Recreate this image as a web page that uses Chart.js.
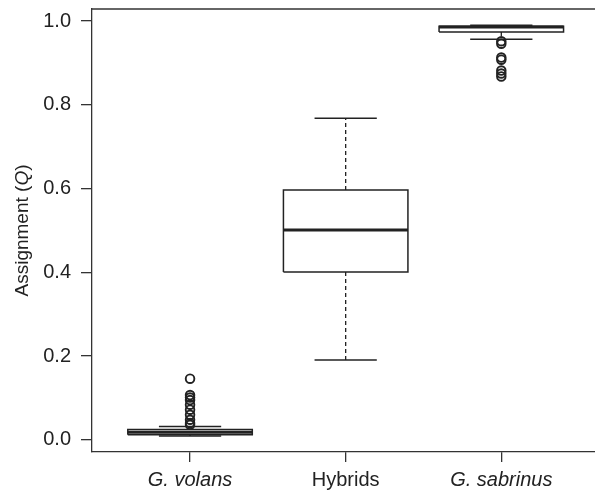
<!DOCTYPE html>
<html>
<head>
<meta charset="utf-8">
<script src="https://cdn.jsdelivr.net/npm/chart.js@4/dist/chart.umd.min.js"></script>
<style>
    html, body { margin: 0; padding: 0; overflow: hidden; background: #fff; }
</style>
</head>
<body>
<canvas id="myChart" width="604" height="494"></canvas>
<script>
var categories = ["G. volans", "Hybrids", "G. sabrinus"];
var lowerWhisker = [0.009, 0.191, 0.957];
var lowerQuartile = [0.012, 0.401, 0.974];
var medians = [0.018, 0.501, 0.986];
var upperQuartile = [0.025, 0.597, 0.988];
var upperWhisker = [0.032, 0.768, 0.990];
var outliers = [
    [0.146, 0.107, 0.101, 0.095, 0.084, 0.072, 0.060, 0.048, 0.040, 0.036],
    [],
    [0.952, 0.946, 0.913, 0.908, 0.882, 0.875, 0.868]
];
var yTicks = [0.0, 0.2, 0.4, 0.6, 0.8, 1.0];

var ink = "#222";
var fontFamily = "'Liberation Sans', Arial, Helvetica, sans-serif";
var boxHalf = 0.4, capHalf = 0.2;

function seg(points, width, dash) {
    return {
        data: points,
        showLine: true,
        borderColor: ink,
        borderWidth: width,
        borderDash: dash || [],
        pointRadius: 0,
        fill: false
    };
}

var dts = [];
for (var i = 0; i < categories.length; i++) {
    var x = i + 1;
    // box
    dts.push(seg([
        {x: x - boxHalf, y: lowerQuartile[i]}, {x: x + boxHalf, y: lowerQuartile[i]},
        {x: x + boxHalf, y: upperQuartile[i]}, {x: x - boxHalf, y: upperQuartile[i]},
        {x: x - boxHalf, y: lowerQuartile[i]}
    ], 1.5));
    // whiskers
    dts.push(seg([{x: x, y: upperQuartile[i]}, {x: x, y: upperWhisker[i]}], 1.3, [4, 3]));
    dts.push(seg([{x: x, y: lowerQuartile[i]}, {x: x, y: lowerWhisker[i]}], 1.3, [4, 3]));
    dts.push(seg([{x: x - capHalf, y: upperWhisker[i]}, {x: x + capHalf, y: upperWhisker[i]}], 1.5));
    dts.push(seg([{x: x - capHalf, y: lowerWhisker[i]}, {x: x + capHalf, y: lowerWhisker[i]}], 1.5));
    // median
    dts.push(seg([{x: x - boxHalf, y: medians[i]}, {x: x + boxHalf, y: medians[i]}], 3));
    // outliers
    dts.push({
        data: outliers[i].map(function (v) { return {x: x, y: v}; }),
        showLine: false,
        pointStyle: "circle",
        pointRadius: 4.3,
        pointBorderWidth: 1.9,
        pointBorderColor: ink,
        pointBackgroundColor: "rgba(255,255,255,0)"
    });
}

var framePlugin = {
    id: "frame",
    afterDraw: function (chart) {
        var c = chart.ctx, a = chart.chartArea;
        c.save();
        c.strokeStyle = "#333";
        c.lineWidth = 1.3;
        c.beginPath();
        c.moveTo(a.left, a.top);
        c.lineTo(a.right, a.top);
        c.stroke();

        // y title with italic Q
        var size = 19;
        var parts = [["Assignment (", ""], ["Q", "italic "], [")", ""]];
        var total = 0;
        parts.forEach(function (p) {
            c.font = p[1] + size + "px " + fontFamily;
            p.push(c.measureText(p[0]).width);
            total += p[2];
        });
        c.translate(23, (a.top + a.bottom) / 2);
        c.rotate(-Math.PI / 2);
        c.fillStyle = ink;
        c.textBaseline = "middle";
        var px = -total / 2;
        parts.forEach(function (p) {
            c.font = p[1] + size + "px " + fontFamily;
            c.fillText(p[0], px, 0);
            px += p[2];
        });
        c.restore();
    }
};

var ctx = document.getElementById("myChart").getContext("2d");
var mychart = new Chart(ctx, {
    type: "scatter",
    data: {datasets: dts},
    options: {
        responsive: false,
        animation: false,
        layout: {padding: {top: 9, left: 0, right: 3, bottom: 0}},
        plugins: {legend: {display: false}, tooltip: {enabled: false}},
        scales: {
            x: {
                type: "linear",
                min: 0.37,
                max: 3.62,
                afterBuildTicks: function (axis) {
                    axis.ticks = categories.map(function (c, k) { return {value: k + 1}; });
                },
                afterFit: function (axis) {
                    axis.height = 42;
                    axis.paddingLeft = 0;
                    axis.paddingRight = 0;
                },
                ticks: {
                    padding: 6,
                    color: ink,
                    maxRotation: 0,
                    autoSkip: false,
                    font: function (context) {
                        var lab = categories[context.index] || "";
                        return {family: fontFamily, size: 20, style: lab.indexOf("G.") === 0 ? "italic" : "normal"};
                    },
                    callback: function (v) { return categories[v - 1]; }
                },
                grid: {drawOnChartArea: false, tickLength: 10, color: "#333", lineWidth: 1.3},
                border: {display: true, color: "#333", width: 1.3}
            },
            y: {
                min: -0.029,
                max: 1.029,
                afterBuildTicks: function (axis) {
                    axis.ticks = yTicks.map(function (v) { return {value: v}; });
                },
                afterFit: function (axis) {
                    axis.width = 92;
                    axis.paddingTop = 0;
                    axis.paddingBottom = 0;
                },
                ticks: {
                    padding: 10,
                    color: ink,
                    font: {family: fontFamily, size: 20},
                    callback: function (v) { return v.toFixed(1); }
                },
                grid: {drawOnChartArea: false, tickLength: 11, color: "#333", lineWidth: 1.3},
                border: {display: true, color: "#333", width: 1.3}
            }
        }
    },
    plugins: [framePlugin]
});
</script>
</body>
</html>
